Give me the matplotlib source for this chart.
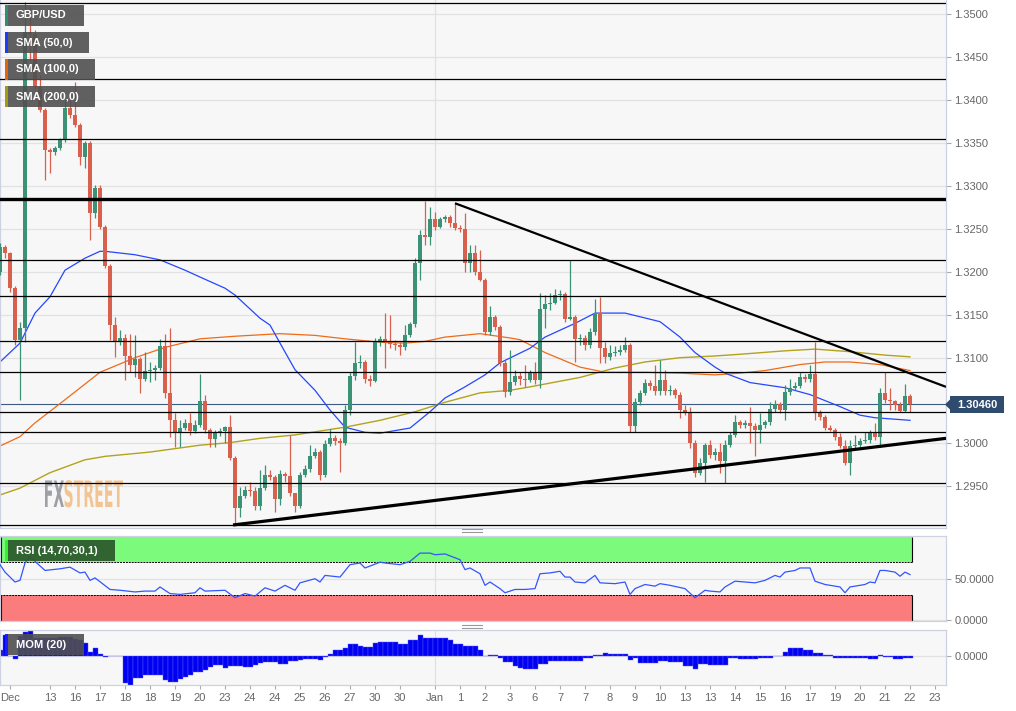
import numpy as np
import matplotlib.pyplot as plt
import matplotlib.transforms as mtransforms
from matplotlib.patches import Rectangle, Polygon, PathPatch
from matplotlib.lines import Line2D
from matplotlib.textpath import TextPath
from matplotlib.font_manager import FontProperties
from matplotlib.ticker import FormatStrFormatter

plt.rcParams['font.family'] = ['Liberation Sans', 'DejaVu Sans']

# ---- GBP/USD 4h candles (open of each bar = previous close) ----
first_open = 1.3200
closes = [
    1.3229, 1.3222, 1.3181, 1.3121, 1.3135, 1.3480, 1.3477, 1.3416, 1.3389, 1.3342,
    1.3340, 1.3344, 1.3354, 1.3391, 1.3383, 1.3371, 1.3334, 1.3350, 1.3269, 1.3298,
    1.3252, 1.3207, 1.3138, 1.3118, 1.3123, 1.3102, 1.3092, 1.3099, 1.3075, 1.3085,
    1.3086, 1.3088, 1.3114, 1.3059, 1.3027, 1.3012, 1.3018, 1.3024, 1.3015, 1.3022,
    1.3050, 1.3016, 1.3005, 1.3012, 1.3015, 1.3019, 1.2983, 1.2925, 1.2939, 1.2946,
    1.2945, 1.2927, 1.2948, 1.2963, 1.2961, 1.2935, 1.2965, 1.2962, 1.2942, 1.2927,
    1.2963, 1.2970, 1.2985, 1.2990, 1.2963, 1.2999, 1.3006, 1.3003, 1.3000, 1.3039,
    1.3079, 1.3094, 1.3095, 1.3075, 1.3073, 1.3118, 1.3122, 1.3119, 1.3116, 1.3115,
    1.3112, 1.3126, 1.3139, 1.3210, 1.3243, 1.3241, 1.3262, 1.3252, 1.3262, 1.3264,
    1.3257, 1.3251, 1.3250, 1.3210, 1.3222, 1.3200, 1.3191, 1.3130, 1.3148, 1.3136,
    1.3094, 1.3060, 1.3072, 1.3079, 1.3075, 1.3074, 1.3082, 1.3074, 1.3157, 1.3162,
    1.3164, 1.3173, 1.3174, 1.3145, 1.3148, 1.3122, 1.3123, 1.3115, 1.3130, 1.3152,
    1.3111, 1.3101, 1.3106, 1.3107, 1.3109, 1.3115, 1.3020, 1.3048, 1.3059, 1.3071,
    1.3067, 1.3061, 1.3074, 1.3061, 1.3062, 1.3057, 1.3039, 1.3037, 1.3001, 1.2966,
    1.2977, 1.2998, 1.2987, 1.2990, 1.2980, 1.2998, 1.3010, 1.3025, 1.3022, 1.3024,
    1.3020, 1.3016, 1.3022, 1.3025, 1.3040, 1.3046, 1.3039, 1.3060, 1.3065, 1.3067,
    1.3077, 1.3075, 1.3081, 1.3035, 1.3031, 1.3018, 1.3016, 1.3008, 1.2997, 1.2977,
    1.2997, 1.2998, 1.3003, 1.3004, 1.3012, 1.3008, 1.3059, 1.3051, 1.3050, 1.3045,
    1.3038, 1.3055, 1.3046]
highs = [
    1.3234, 1.3231, 1.3223, 1.3184, 1.3142, 1.3514, 1.3509, 1.3482, 1.3430, 1.3391,
    1.3344, 1.3347, 1.3356, 1.3400, 1.3400, 1.3421, 1.3374, 1.3353, 1.3353, 1.3301,
    1.3301, 1.3255, 1.3209, 1.3148, 1.3132, 1.3128, 1.3128, 1.3126, 1.3101, 1.3107,
    1.3095, 1.3092, 1.3122, 1.3128, 1.3135, 1.3035, 1.3027, 1.3029, 1.3035, 1.3027,
    1.3081, 1.3057, 1.3018, 1.3016, 1.3018, 1.3020, 1.3033, 1.2985, 1.2949, 1.2950,
    1.2955, 1.2949, 1.2969, 1.2975, 1.2969, 1.2963, 1.2969, 1.2967, 1.3010, 1.2942,
    1.2967, 1.2975, 1.2998, 1.2995, 1.2992, 1.3004, 1.3017, 1.3010, 1.3006, 1.3045,
    1.3083, 1.3118, 1.3103, 1.3097, 1.3080, 1.3123, 1.3125, 1.3152, 1.3150, 1.3121,
    1.3118, 1.3138, 1.3142, 1.3216, 1.3249, 1.3283, 1.3276, 1.3270, 1.3264, 1.3266,
    1.3266, 1.3280, 1.3255, 1.3269, 1.3231, 1.3231, 1.3226, 1.3193, 1.3160, 1.3150,
    1.3138, 1.3097, 1.3109, 1.3086, 1.3083, 1.3092, 1.3086, 1.3095, 1.3175, 1.3173,
    1.3175, 1.3180, 1.3179, 1.3177, 1.3214, 1.3150, 1.3128, 1.3126, 1.3135, 1.3168,
    1.3171, 1.3118, 1.3115, 1.3114, 1.3115, 1.3124, 1.3117, 1.3053, 1.3062, 1.3075,
    1.3074, 1.3092, 1.3097, 1.3086, 1.3068, 1.3065, 1.3060, 1.3045, 1.3043, 1.3004,
    1.2983, 1.3001, 1.3004, 1.2995, 1.3000, 1.3004, 1.3013, 1.3033, 1.3027, 1.3027,
    1.3043, 1.3024, 1.3035, 1.3027, 1.3048, 1.3051, 1.3048, 1.3068, 1.3075, 1.3072,
    1.3083, 1.3081, 1.3092, 1.3118, 1.3039, 1.3033, 1.3022, 1.3018, 1.3012, 1.3004,
    1.3004, 1.3010, 1.3006, 1.3013, 1.3016, 1.3024, 1.3065, 1.3083, 1.3065, 1.3051,
    1.3048, 1.3069, 1.3058]
lows = [
    1.3196, 1.3216, 1.3177, 1.3115, 1.3051, 1.3118, 1.3447, 1.3412, 1.3386, 1.3307,
    1.3315, 1.3336, 1.3342, 1.3351, 1.3379, 1.3369, 1.3325, 1.3321, 1.3237, 1.3263,
    1.3250, 1.3205, 1.3121, 1.3101, 1.3115, 1.3074, 1.3083, 1.3077, 1.3059, 1.3073,
    1.3072, 1.3074, 1.3086, 1.3053, 1.3008, 1.2996, 1.2996, 1.3016, 1.3010, 1.3012,
    1.3019, 1.3012, 1.2996, 1.2996, 1.3009, 1.3000, 1.2981, 1.2907, 1.2914, 1.2936,
    1.2939, 1.2922, 1.2922, 1.2946, 1.2958, 1.2920, 1.2928, 1.2955, 1.2939, 1.2920,
    1.2925, 1.2961, 1.2967, 1.2983, 1.2958, 1.2961, 1.2997, 1.2998, 1.2967, 1.2998,
    1.3033, 1.3074, 1.3088, 1.3071, 1.3067, 1.3072, 1.3114, 1.3088, 1.3111, 1.3109,
    1.3103, 1.3109, 1.3124, 1.3136, 1.3191, 1.3231, 1.3231, 1.3249, 1.3251, 1.3258,
    1.3252, 1.3249, 1.3247, 1.3200, 1.3200, 1.3196, 1.3189, 1.3126, 1.3126, 1.3132,
    1.3090, 1.3054, 1.3057, 1.3068, 1.3068, 1.3066, 1.3072, 1.3069, 1.3065, 1.3135,
    1.3156, 1.3162, 1.3167, 1.3142, 1.3144, 1.3095, 1.3115, 1.3109, 1.3111, 1.3126,
    1.3094, 1.3094, 1.3097, 1.3102, 1.3103, 1.3107, 1.3013, 1.3013, 1.3045, 1.3057,
    1.3062, 1.3057, 1.3057, 1.3057, 1.3057, 1.3053, 1.3030, 1.3033, 1.2995, 1.2961,
    1.2963, 1.2955, 1.2983, 1.2981, 1.2966, 1.2954, 1.2996, 1.3008, 1.3018, 1.3018,
    1.3000, 1.2985, 1.3001, 1.3018, 1.3022, 1.3037, 1.3035, 1.3027, 1.3057, 1.3062,
    1.3065, 1.3072, 1.3072, 1.3027, 1.3027, 1.3016, 1.3015, 1.3004, 1.2995, 1.2975,
    1.2963, 1.2995, 1.2996, 1.3000, 1.3001, 1.3004, 1.2996, 1.3047, 1.3039, 1.3039,
    1.3037, 1.3037, 1.3037]

# ---- moving averages (bar index, price) ----
sma50_bar = [0, 4, 7, 10, 13, 17, 20, 21, 27, 32, 37, 40, 45, 47, 52, 54, 56, 59, 63, 66, 69, 73,
             76, 82, 86, 89, 93, 97, 100, 106, 109, 115, 119, 125, 132, 136, 139, 143, 145, 150,
             157, 162, 168, 172, 175, 182]
sma50 = [1.3095, 1.3117, 1.3152, 1.3171, 1.3202, 1.3216, 1.3224, 1.3224, 1.3220, 1.3214, 1.3202,
         1.3194, 1.3181, 1.3173, 1.3146, 1.3138, 1.3117, 1.3086, 1.3062, 1.3039, 1.3019, 1.3013,
         1.3012, 1.3018, 1.3037, 1.3053, 1.3066, 1.3080, 1.3094, 1.3111, 1.3124, 1.3140, 1.3152,
         1.3152, 1.3142, 1.3124, 1.3106, 1.3089, 1.3082, 1.3071, 1.3065, 1.3057, 1.3043, 1.3033,
         1.3030, 1.3027]
sma100_bar = [0, 4, 7, 13, 20, 27, 33, 40, 47, 56, 63, 69, 76, 81, 85, 89, 96, 102, 104, 109, 116,
              121, 129, 136, 143, 148, 153, 160, 165, 170, 176, 182]
sma100 = [1.2997, 1.3008, 1.3024, 1.3051, 1.3083, 1.3100, 1.3112, 1.3122, 1.3125, 1.3128, 1.3126,
          1.3122, 1.3118, 1.3117, 1.3119, 1.3124, 1.3128, 1.3123, 1.3121, 1.3106, 1.3089, 1.3083,
          1.3083, 1.3082, 1.3080, 1.3082, 1.3085, 1.3092, 1.3095, 1.3095, 1.3092, 1.3085]
sma200_bar = [0, 4, 10, 17, 21, 30, 40, 46, 52, 59, 69, 76, 83, 89, 96, 102, 106, 116, 123, 129,
              136, 143, 148, 157, 163, 170, 177, 182]
sma200 = [1.2940, 1.2948, 1.2966, 1.2981, 1.2985, 1.2990, 1.2998, 1.3001, 1.3006, 1.3010, 1.3019,
          1.3027, 1.3037, 1.3048, 1.3059, 1.3062, 1.3066, 1.3077, 1.3088, 1.3095, 1.3100, 1.3102,
          1.3104, 1.3108, 1.3110, 1.3107, 1.3103, 1.3101]

# ---- drawn levels and trend lines ----
levels = [1.3513, 1.3425, 1.3355, 1.3214, 1.3172, 1.3120, 1.3083, 1.3037, 1.3013, 1.2954, 1.2905]
key_level = 1.3285
down_bar, down_px = [91, 189.2], [1.3280, 1.3066]
up_bar, up_px = [46.6, 189.2], [1.2905, 1.3006]

# ---- RSI (14) ----
rsi_bar = [0, 1, 3, 4, 5, 6, 7, 9, 12, 14, 16, 17, 18, 19, 22, 24, 27, 29, 31, 32, 34, 36, 39, 40,
           41, 45, 47, 49, 51, 53, 55, 57, 59, 60, 63, 64, 65, 68, 70, 72, 73, 76, 77, 80, 82, 84,
           86, 87, 89, 92, 93, 94, 96, 97, 98, 100, 101, 103, 105, 107, 108, 110, 112, 113, 114,
           115, 117, 119, 120, 123, 125, 126, 127, 129, 131, 132, 134, 137, 139, 141, 142, 144,
           145, 147, 149, 151, 153, 155, 156, 157, 159, 160, 162, 163, 165, 167, 168, 169, 170,
           172, 173, 174, 175, 176, 177, 179, 180, 181, 182]
rsi = [67, 58, 46, 48, 69, 77, 71, 60, 62, 64, 57, 58, 48, 51, 37, 36, 34, 35, 35, 40, 32, 31, 33,
       39, 35, 36, 27, 32, 29, 39, 35, 42, 36, 45, 50, 46, 54, 52, 67, 69, 63, 70, 69, 67, 71, 81,
       81, 79, 80, 73, 61, 63, 56, 42, 46, 38, 33, 37, 37, 38, 56, 57, 59, 52, 52, 46, 45, 54, 45,
       44, 46, 31, 38, 43, 41, 44, 42, 38, 27, 36, 35, 34, 40, 47, 46, 45, 48, 54, 52, 58, 60, 63,
       63, 47, 43, 41, 40, 33, 40, 42, 43, 46, 45, 60, 60, 58, 53, 58, 55]

# ---- Momentum (20), one bar per candle ----
mom = [6, 21, 0, -3, 20, 24, 25, 18, 18, 18, 18, 18, 19, 19, 19, 17, 16, 13, 4, 8, 2, -1, 0, 0, 0,
       -27, -30, -22, -22, -19, -19, -19, -19, -24, -26, -26, -23, -21, -19, -16, -16,
       -14, -11, -9, -9, -12, -10, -10, -10, -11, -11, -9, -7, -6, -6, -6, -8, -8, -5, -5, -4,
       -3, -3, -3, -4, -1, 2, 6, 6, 8, 12, 12, 10, 9, 9, 13, 14, 14, 14, 14, 12,
       12, 16, 16, 21, 18, 18, 18, 18, 18, 16, 12, 12, 10, 10, 10, 6, 0, 1, 1, -2,
       -6, -6, -10, -12, -13, -13, -13, -8, -8, -5, -5, -5, -5, -5, -5, -5, -2, -2, 1, 1,
       3, 2, 2, 2, 2, -4, -2, -7, -7, -7, -7, -5, -5, -6, -6, -6, -10, -10, -13, -8,
       -8, -9, -9, -9, -9, -2, -2, -3, -3, -3, -3, -2, -2, -2, 0, 0, 4, 8, 8, 8,
       6, 6, 3, 3, 1, 1, -2, -2, -2, -2, -2, -2, -2, -3, -3, 1, -1, -1, -3, -3, -2, -2]

price_ticks = [1.3500, 1.3450, 1.3400, 1.3350, 1.3300, 1.3250, 1.3200, 1.3150, 1.3100,
               1.3000, 1.2950]
tick_bar = [2, 10, 15, 20, 25, 30, 35, 40, 45, 50, 55, 60, 65, 70, 75, 80, 87,
            92, 97, 102, 107, 112, 117, 122, 127, 132, 137, 142, 147, 152, 157, 162, 167, 172,
            177, 182, 187]
tick_labels = ['Dec', '13', '16', '17', '18', '18', '19', '20', '23', '24', '24', '25', '26', '27',
               '30', '30', 'Jan', '1', '2', '3', '6', '7', '7', '8', '9', '10', '13', '13', '14',
               '15', '16', '17', '19', '20', '21', '22', '23']

W, H = 1016, 711
GREEN, RED = '#3b9276', '#d9604c'


def fx(px):
    return px / W


def fy(py):
    return 1 - py / H


fig = plt.figure(figsize=(W / 100, H / 100), dpi=100)
ax = fig.add_axes([0, fy(528), fx(946), 528 / H])
rsi_ax = fig.add_axes([0, fy(621), fx(946), 85 / H])
mom_ax = fig.add_axes([0, fy(685), fx(946), 55 / H])

for a in (ax, rsi_ax, mom_ax):
    a.set_facecolor('#f7f7f7')
    for s in a.spines.values():
        s.set_color('#cdd1e2')
        s.set_linewidth(0.9)
    a.set_xlim(0, 189.2)
    a.yaxis.tick_right()
    a.tick_params(axis='y', length=3.5, width=0.8, color='#aaaaaa', labelcolor='#666666',
                  labelsize=8, pad=2.5)
    a.tick_params(axis='x', bottom=False, labelbottom=False)
    a.axvline(87, color='#e0e0e0', lw=0.9, zorder=0)
    a.yaxis.set_major_formatter(FormatStrFormatter('%.4f'))
    a.set_axisbelow(True)
ax.spines['top'].set_visible(False)

# ---- price panel ----
ax.set_ylim(1.29015, 1.35169)
ax.set_yticks(price_ticks)
ax.grid(axis='y', color='#e2e2e2', lw=0.9)

closes = np.array(closes)
opens = np.concatenate([[first_open], closes[:-1]])
highs = np.maximum(np.array(highs), np.maximum(opens, closes))
lows = np.minimum(np.array(lows), np.minimum(opens, closes))
bars = np.arange(len(closes))
cols = np.where(closes >= opens, GREEN, RED)
body = np.maximum(np.abs(closes - opens), 0.00009)

# watermark
fp = FontProperties(family='DejaVu Sans', weight='bold')
p_fx = TextPath((0, 0), 'FX', size=10, prop=fp)
p_st = TextPath((0, 0), 'STREET', size=10, prop=fp)
e1, e2 = p_fx.get_extents(), p_st.get_extents()
gap = 0.4
sx = 78 / ((e1.x1 - e1.x0) + gap + (e2.x1 - e2.x0))
sy = 27 / max(e1.y1, e2.y1)
t1 = mtransforms.Affine2D().translate(-e1.x0, 0).scale(sx, sy).translate(45, H - 507)
t2 = mtransforms.Affine2D().translate(-e2.x0 + (e1.x1 - e1.x0) + gap, 0).scale(sx, sy).translate(45, H - 507)
ax.add_patch(PathPatch(p_fx, transform=t1, fc='#8f9198', ec='none', alpha=0.85, zorder=1))
ax.add_patch(PathPatch(p_st, transform=t2, fc='#f1bd82', ec='none', alpha=0.85, zorder=1))

ax.axhline(closes[-1], color='#3d5a80', lw=0.8, zorder=1.5)
ax.plot(sma200_bar, sma200, color='#b3a21c', lw=1.0, zorder=2)
ax.plot(sma100_bar, sma100, color='#f06a18', lw=0.9, zorder=2)
ax.plot(sma50_bar, sma50, color='#2447ff', lw=0.9, zorder=2)

ax.vlines(bars, lows, highs, colors=cols, lw=0.9, zorder=3)
ax.bar(bars, body, bottom=np.minimum(opens, closes), width=0.74, color=cols, lw=0, zorder=3)

for lv in levels:
    ax.axhline(lv, color='black', lw=0.9, zorder=4)
ax.axhline(key_level, color='black', lw=2.4, zorder=4)
ax.plot(down_bar, down_px, color='black', lw=1.6, zorder=4, solid_capstyle='butt')
ax.plot(up_bar, up_px, color='black', lw=2.3, zorder=4, solid_capstyle='butt')

# ---- RSI panel ----
rsi_ax.set_ylim(-1.2, 101.7)
rsi_ax.set_yticks([0, 50])
rsi_ax.grid(axis='y', color='#e2e2e2', lw=0.9)
band_end = bars[-1] + 0.4
rsi_ax.add_patch(Rectangle((0, 70), band_end, 30.6, fc='#7cfa7c', ec='none', zorder=1))
rsi_ax.add_patch(Rectangle((0, -1.2), band_end, 31.2, fc='#fb7c7c', ec='none', zorder=1))
rsi_ax.hlines([70, 30], 0, band_end, colors='black', linestyles=(0, (2, 1)), lw=0.7, zorder=2)
rsi_ax.vlines([0.15, band_end], 70, 100.6, colors='black', lw=0.8, zorder=2)
rsi_ax.vlines([0.15, band_end], -1.2, 30, colors='black', lw=0.8, zorder=2)
rsi_ax.plot(rsi_bar, rsi, color='#3355ff', lw=0.9, zorder=3)

# ---- Momentum panel ----
mom_ax.set_ylim(-29, 26)
mom_ax.set_yticks([0])
mom_ax.grid(axis='y', color='#e2e2e2', lw=0.9)
mom_ax.bar(bars, mom, width=1.0, color='#0000f0', edgecolor='#5a5aff', lw=0.3, zorder=2)
mom_ax.set_xticks(tick_bar)
mom_ax.set_xticklabels(tick_labels)
mom_ax.tick_params(axis='x', bottom=True, labelbottom=True, length=3, width=0.8,
                   color='#aaaaaa', labelcolor='#666666', labelsize=8, pad=2.5)


# ---- label boxes ----
def label_box(x0, y0, x1, y1, fc, stripe, text, alpha=0.9):
    fig.add_artist(Rectangle((fx(x0), fy(y1)), (x1 - x0) / W, (y1 - y0) / H, transform=fig.transFigure,
                             fc=fc, ec='none', alpha=alpha, zorder=5))
    fig.add_artist(Rectangle((fx(x0), fy(y1)), 3 / W, (y1 - y0) / H, transform=fig.transFigure,
                             fc=stripe, ec='none', zorder=6))
    fig.text(fx(x0 + 11), fy((y0 + y1) / 2), text, color='white', fontsize=8, fontweight='bold',
             ha='left', va='center', zorder=7)


label_box(5, 5, 84, 26, '#505050', '#2e8f74', 'GBP/USD')
label_box(5, 32, 89, 53, '#505050', '#1a3cff', 'SMA (50,0)')
label_box(5, 59, 95, 80, '#505050', '#e5630f', 'SMA (100,0)')
label_box(5, 86, 95, 107, '#505050', '#a39a10', 'SMA (200,0)')
label_box(5, 540, 115, 561, '#2d5c2d', '#33ee33', 'RSI (14,70,30,1)', alpha=0.95)
label_box(5, 634, 84, 655, '#505050', '#1a1aff', 'MOM (20)')

# current price tag
tag = [(945, 404.5), (950, 399.5), (950, 396), (1004, 396), (1004, 413), (950, 413), (950, 409.5)]
fig.add_artist(Polygon([(fx(a), fy(b)) for a, b in tag], closed=True, transform=fig.transFigure,
                       fc='#2f4b6d', ec='none', zorder=5))
fig.text(fx(977), fy(404.5), f'{closes[-1]:.5f}', color='white', fontsize=8, fontweight='bold',
         ha='center', va='center', zorder=6)

# panel resize handles
for yy in (529, 532, 625, 628):
    fig.add_artist(Line2D([fx(462), fx(482)], [fy(yy), fy(yy)], transform=fig.transFigure,
                          color='#999999', lw=0.8))

fig.savefig('out.png', dpi=100, facecolor='white')
